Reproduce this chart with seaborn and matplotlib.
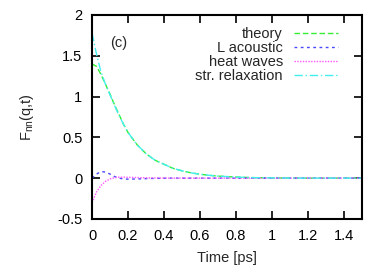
"""
F_nn(q,t) decomposition plot, panel (c)
"""

import numpy as np
import pandas as pd
import matplotlib
matplotlib.use("Agg")
import matplotlib.pyplot as plt
import seaborn as sns
from matplotlib.ticker import FormatStrFormatter, MultipleLocator

# values
time_ps = [0.0, 0.025, 0.05, 0.075, 0.1, 0.125, 0.15, 0.175, 0.2, 0.25, 0.3,
           0.35, 0.4, 0.45, 0.5, 0.55, 0.6, 0.65, 0.7, 0.8, 0.9, 1.0, 1.1,
           1.2, 1.3, 1.4, 1.5]
theory = [1.40, 1.37, 1.27, 1.15, 1.03, 0.90, 0.78, 0.66, 0.56, 0.41, 0.30,
          0.22, 0.17, 0.12, 0.09, 0.065, 0.048, 0.035, 0.025, 0.013, 0.006,
          0.003, 0.001, 0.0, 0.0, 0.0, 0.0]
l_acoustic = [0.0, 0.05, 0.08, 0.075, 0.05, 0.02, 0.0, -0.01, -0.012, -0.01,
              -0.006, -0.003, -0.001, 0.0, 0.0, 0.0, 0.0, 0.0, 0.0, 0.0, 0.0,
              0.0, 0.0, 0.0, 0.0, 0.0, 0.0]
heat_waves = [-0.30, -0.17, -0.09, -0.04, -0.01, 0.005, 0.012, 0.012, 0.01,
              0.007, 0.004, 0.002, 0.001, 0.0, 0.0, 0.0, 0.0, 0.0, 0.0, 0.0,
              0.0, 0.0, 0.0, 0.0, 0.0, 0.0, 0.0]
str_relax = [1.78, 1.52, 1.30, 1.15, 1.02, 0.89, 0.77, 0.66, 0.56, 0.41, 0.30,
             0.22, 0.17, 0.12, 0.09, 0.065, 0.048, 0.035, 0.025, 0.013, 0.006,
             0.003, 0.001, 0.0, 0.0, 0.0, 0.0]

series_names = ["theory", "L acoustic", "heat waves", "str. relaxation"]
series_values = [theory, l_acoustic, heat_waves, str_relax]
colors = ["#33ee33", "#4848ff", "#ff55ff", "#44eeee"]
dashes = [(4, 2), (2, 2.5), (1, 1), (6, 2, 1, 2)]

sns.set_style("ticks")
plt.rcParams["font.family"] = ["Liberation Sans", "DejaVu Sans"]
plt.rcParams["mathtext.fontset"] = "custom"
plt.rcParams["mathtext.rm"] = "Liberation Sans"
plt.rcParams["mathtext.it"] = "Liberation Sans"

fs = 10.5

fig = plt.figure(figsize=(3.74, 2.67), dpi=100)
ax = fig.add_axes([0.246, 0.18, 0.722, 0.764])

for name, vals, c, d in zip(series_names, series_values, colors, dashes):
    df = pd.DataFrame({"t": time_ps, "F": vals})
    sns.lineplot(data=df, x="t", y="F", ax=ax, color=c, lw=1.0,
                 dashes=False, label=name).lines[-1].set_dashes(d)

ax.set_xlim(0, 1.5)
ax.set_ylim(-0.5, 2)
ax.xaxis.set_major_locator(MultipleLocator(0.2))
ax.yaxis.set_major_locator(MultipleLocator(0.5))
ax.xaxis.set_major_formatter(FormatStrFormatter("%g"))
ax.yaxis.set_major_formatter(FormatStrFormatter("%g"))
ax.tick_params(direction="in", top=True, right=True, length=5.5, width=1.2,
               labelsize=fs, colors="black")
ax.tick_params(axis="x", pad=7)
ax.tick_params(axis="y", pad=7)
for s in ax.spines.values():
    s.set_linewidth(1.5)
    s.set_color("black")

ax.set_xlabel("Time [ps]", fontsize=fs, labelpad=6)
ax.set_ylabel("F$_{\\rm nn}$(q,t)", fontsize=fs, labelpad=15)
ax.text(0.15, 1.66, "(c)", fontsize=fs, ha="center", va="center")

ax.legend(loc="upper right", frameon=False, markerfirst=False, fontsize=fs,
          handlelength=3.0, handletextpad=0.8, labelspacing=0.0,
          borderaxespad=0.4, borderpad=0.4, bbox_to_anchor=(0.955, 1.0))

fig.savefig("out.png", dpi=100)
